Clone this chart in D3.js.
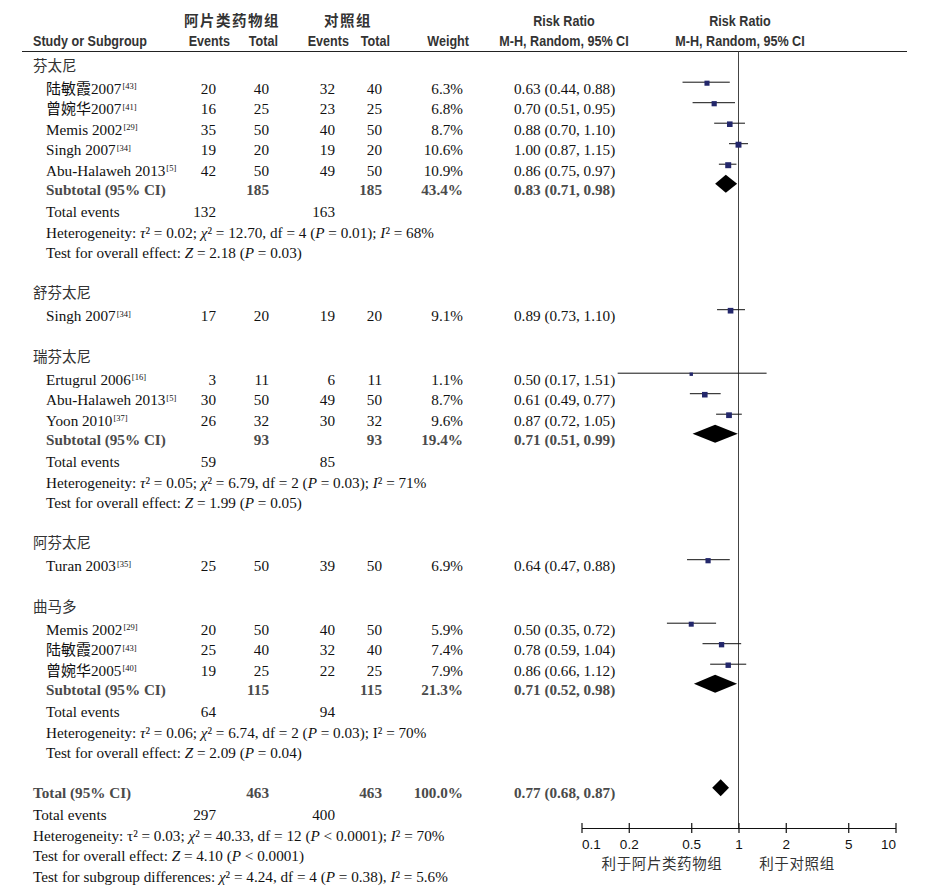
<!DOCTYPE html>
<html>
<head>
<meta charset="utf-8">
<script src="https://cdn.jsdelivr.net/npm/d3@7"></script>
<style>
  body { margin: 0; background: #fff; }
  .serif { font-family: "Liberation Serif", "Times New Roman", serif; font-size: 15.2px; fill: #111; }
  .hdr { font-family: "Liberation Sans", Arial, sans-serif; font-weight: bold; font-size: 15px; fill: #333; }
  .cjk { font-family: "Noto Sans CJK SC", sans-serif; }
</style>
</head>
<body>
<script>
// subgroups (drug)
var groups = ["芬太尼", "舒芬太尼", "瑞芬太尼", "阿芬太尼", "曲马多"];

// studies
var studies = ["陆敏霞2007", "曾婉华2007", "Memis 2002", "Singh 2007", "Abu-Halaweh 2013",
  "Singh 2007",
  "Ertugrul 2006", "Abu-Halaweh 2013", "Yoon 2010",
  "Turan 2003",
  "Memis 2002", "陆敏霞2007", "曾婉华2005"];
var refs = ["43", "41", "29", "34", "5", "34", "16", "5", "37", "35", "29", "43", "40"];
var studyGroup = [0, 0, 0, 0, 0, 1, 2, 2, 2, 3, 4, 4, 4];
var expEvents = [20, 16, 35, 19, 42, 17, 3, 30, 26, 25, 20, 25, 19];
var expTotal = [40, 25, 50, 20, 50, 20, 11, 50, 32, 50, 50, 40, 25];
var ctlEvents = [32, 23, 40, 19, 49, 19, 6, 49, 30, 39, 40, 32, 22];
var ctlTotal = [40, 25, 50, 20, 50, 20, 11, 50, 32, 50, 50, 40, 25];
var weights = [6.3, 6.8, 8.7, 10.6, 10.9, 9.1, 1.1, 8.7, 9.6, 6.9, 5.9, 7.4, 7.9];
var rr = [0.63, 0.70, 0.88, 1.00, 0.86, 0.89, 0.50, 0.61, 0.87, 0.64, 0.50, 0.78, 0.86];
var ciLow = [0.44, 0.51, 0.70, 0.87, 0.75, 0.73, 0.17, 0.49, 0.72, 0.47, 0.35, 0.59, 0.66];
var ciHigh = [0.88, 0.95, 1.10, 1.15, 0.97, 1.10, 1.51, 0.77, 1.05, 0.88, 0.72, 1.04, 1.12];

// subtotals (only groups with more than one study)
var subGroup = [0, 2, 4];
var subExpTotal = [185, 93, 115];
var subCtlTotal = [185, 93, 115];
var subWeight = [43.4, 19.4, 21.3];
var subRR = [0.83, 0.71, 0.71];
var subLow = [0.71, 0.51, 0.52];
var subHigh = [0.98, 0.99, 0.98];
var subExpEvents = [132, 59, 64];
var subCtlEvents = [163, 85, 94];
var subHet = [
  "Heterogeneity: *τ*² = 0.02; *χ*² = 12.70, df = 4 (*P* = 0.01); *I*² = 68%",
  "Heterogeneity: *τ*² = 0.05; *χ*² = 6.79, df = 2 (*P* = 0.03); *I*² = 71%",
  "Heterogeneity: *τ*² = 0.06; *χ*² = 6.74, df = 2 (*P* = 0.03); I² = 70%"];
var subTest = [
  "Test for overall effect: *Z* = 2.18 (*P* = 0.03)",
  "Test for overall effect: *Z* = 1.99 (*P* = 0.05)",
  "Test for overall effect: *Z* = 2.09 (*P* = 0.04)"];

// overall
var totExpTotal = 463, totCtlTotal = 463, totWeight = 100.0;
var totRR = 0.77, totLow = 0.68, totHigh = 0.87;
var totExpEvents = 297, totCtlEvents = 400;
var totLines = [
  "Heterogeneity: τ² = 0.03; *χ*² = 40.33, df = 12 (*P* < 0.0001); *I*² = 70%",
  "Test for overall effect: *Z* = 4.10 (*P* < 0.0001)",
  "Test for subgroup differences: *χ*² = 4.24, df = 4 (*P* = 0.38), *I*² = 5.6%"];

var axisTicks = [0.1, 0.2, 0.5, 1, 2, 5, 10];
var axisLabels = ["利于阿片类药物组", "利于对照组"];

var width = 942, height = 894;
var col = {name0: 33, name1: 46, ee: 216, et: 269, ce: 335, ct: 382, w: 463, ci: 514};
var ruleY = 51.5, axisY = 828;
var narrow = 0.84;

var svg = d3.select("body").append("svg")
    .attr("width", width)
    .attr("height", height);

var x = d3.scaleLog().domain([0.1, 10]).range([581.5, 895.5]);
var boxSize = d3.scaleSqrt().domain([0, 11]).range([2.2, 6]);
var fmt2 = d3.format(".2f"), fmtW = d3.format(".1f");

function ciText(m, l, h) { return fmt2(m) + " (" + fmt2(l) + ", " + fmt2(h) + ")"; }

// text with *italic* parts
function richText(g, str, xx, yy, cls) {
  var t = g.append("text").attr("class", cls).attr("x", xx).attr("y", yy).attr("dy", "0.35em");
  str.split("*").forEach(function(s, k) {
    if (s === "") return;
    t.append("tspan").text(s).style("font-style", k % 2 ? "italic" : null);
  });
  return t;
}
function txt(str, xx, yy, anchor, cls) {
  return svg.append("text").attr("class", cls || "serif")
    .attr("x", xx).attr("y", yy).attr("dy", "0.35em")
    .attr("text-anchor", anchor || "start").text(str);
}
// condensed bold sans header (no narrow font installed, so squeeze it)
var hdrG = svg.append("g").attr("transform", "scale(" + narrow + ",1)");
function hdr(str, xx, yy, anchor) {
  return hdrG.append("text").attr("class", "hdr")
    .attr("x", xx / narrow).attr("y", yy).attr("dy", "0.35em")
    .attr("text-anchor", anchor || "start").text(str);
}

// headers
txt("阿片类药物组", 232, 20.7, "middle", "hdr cjk").style("letter-spacing", "1.5px").style("font-size", "14.5px").style("font-weight", "600");
txt("对照组", 348, 20.7, "middle", "hdr cjk").style("letter-spacing", "1.5px").style("font-size", "14.5px").style("font-weight", "600");
hdr("Risk Ratio", 564, 20.7, "middle");
hdr("Risk Ratio", 740, 20.7, "middle");
hdr("Study or Subgroup", col.name0, 40.7);
hdr("Events", 230, 40.7, "end");
hdr("Total", 278, 40.7, "end");
hdr("Events", 349, 40.7, "end");
hdr("Total", 390, 40.7, "end");
hdr("Weight", 469, 40.7, "end");
hdr("M-H, Random, 95% CI", 564, 40.7, "middle");
hdr("M-H, Random, 95% CI", 740, 40.7, "middle");

svg.append("line").attr("x1", 22).attr("x2", 907).attr("y1", ruleY).attr("y2", ruleY)
  .attr("stroke", "#222").attr("stroke-width", 1.2);

// build row list
var rows = [];
groups.forEach(function(gname, gi) {
  rows.push({type: "group", g: gi});
  studyGroup.forEach(function(sg, i) { if (sg === gi) rows.push({type: "study", i: i}); });
  var si = subGroup.indexOf(gi);
  if (si >= 0) {
    rows.push({type: "sub", s: si});
    rows.push({type: "te", s: si});
    rows.push({type: "het", s: si});
    rows.push({type: "test", s: si});
  }
});
rows.push({type: "total"});
rows.push({type: "totte"});
totLines.forEach(function(l, k) { rows.push({type: "totline", k: k}); });

function gapBefore(prev, cur) {
  if (cur === "group") return prev === "study" ? 41 : 40.5;
  if (cur === "study") return prev === "group" ? 22.5 : 20.5;
  if (cur === "sub") return 19.5;
  if (cur === "te" || cur === "totte") return 22;
  if (cur === "total") return 40;
  return 20.5;
}
var yy = 65.7;
rows.forEach(function(r, k) {
  if (k > 0) yy += gapBefore(rows[k - 1].type, r.type);
  r.y = yy;
});

// vertical line at RR = 1
svg.append("line").attr("x1", x(1)).attr("x2", x(1)).attr("y1", ruleY).attr("y2", axisY)
  .attr("stroke", "#444").attr("stroke-width", 1);

function diamond(m, l, h, cy, hh) {
  svg.append("path")
    .attr("d", "M" + x(l) + "," + cy + "L" + x(m) + "," + (cy - hh) + "L" + x(h) + "," + cy + "L" + x(m) + "," + (cy + hh) + "Z")
    .attr("fill", "#000");
}

rows.forEach(function(r) {
  var y = r.y;
  if (r.type === "group") {
    txt(groups[r.g], col.name0, y, "start", "cjk").style("font-size", "14.5px").style("fill", "#333");
  } else if (r.type === "study") {
    var i = r.i;
    var t = txt(studies[i], col.name1, y);
    if (/[\u4e00-\u9fff]/.test(studies[i])) {
      t.text(null);
      var m = studies[i].match(/^([\u4e00-\u9fff]+)(.*)$/);
      t.append("tspan").attr("class", "cjk").style("font-size", "15px").text(m[1]);
      t.append("tspan").text(m[2]);
    }
    t.append("tspan").attr("dy", "-0.5em").attr("dx", 1).style("font-size", "8.5px").text("[" + refs[i] + "]");
    txt(expEvents[i], col.ee, y, "end");
    txt(expTotal[i], col.et, y, "end");
    txt(ctlEvents[i], col.ce, y, "end");
    txt(ctlTotal[i], col.ct, y, "end");
    txt(fmtW(weights[i]) + "%", col.w, y, "end");
    txt(ciText(rr[i], ciLow[i], ciHigh[i]), col.ci, y);
    var my = y - 6;
    svg.append("line").attr("x1", x(ciLow[i])).attr("x2", x(ciHigh[i]))
      .attr("y1", my).attr("y2", my).attr("stroke", "#111").attr("stroke-width", 1);
    var bs = boxSize(weights[i]);
    svg.append("rect").attr("x", x(rr[i]) - bs / 2).attr("y", my - bs / 2 + 1)
      .attr("width", bs).attr("height", bs).attr("fill", "#23276b");
  } else if (r.type === "sub") {
    var s = r.s;
    [txt("Subtotal (95% CI)", col.name1, y),
     txt(subExpTotal[s], col.et, y, "end"),
     txt(subCtlTotal[s], col.ct, y, "end"),
     txt(fmtW(subWeight[s]) + "%", col.w, y, "end"),
     txt(ciText(subRR[s], subLow[s], subHigh[s]), col.ci, y)
    ].forEach(function(e) { e.style("font-weight", "bold").style("fill", "#4a4a4a"); });
    diamond(subRR[s], subLow[s], subHigh[s], y - 6, 9);
  } else if (r.type === "te") {
    txt("Total events", col.name1, y);
    txt(subExpEvents[r.s], col.ee, y, "end");
    txt(subCtlEvents[r.s], col.ce, y, "end");
  } else if (r.type === "het") {
    richText(svg, subHet[r.s], col.name1, y, "serif");
  } else if (r.type === "test") {
    richText(svg, subTest[r.s], col.name1, y, "serif");
  } else if (r.type === "total") {
    [txt("Total (95% CI)", col.name0, y),
     txt(totExpTotal, col.et, y, "end"),
     txt(totCtlTotal, col.ct, y, "end"),
     txt(fmtW(totWeight) + "%", col.w, y, "end"),
     txt(ciText(totRR, totLow, totHigh), col.ci, y)
    ].forEach(function(e) { e.style("font-weight", "bold").style("fill", "#4a4a4a"); });
    diamond(totRR, totLow, totHigh, y - 5, 8.5);
  } else if (r.type === "totte") {
    txt("Total events", col.name0, y);
    txt(totExpEvents, col.ee, y, "end");
    txt(totCtlEvents, col.ce, y, "end");
  } else if (r.type === "totline") {
    richText(svg, totLines[r.k], col.name0, y, "serif");
  }
});

// axis
var axis = svg.append("g")
  .attr("transform", "translate(0," + axisY + ")")
  .call(d3.axisBottom(x).tickValues(axisTicks).tickFormat(d3.format("")).tickSize(5).tickSizeOuter(0));
axis.select(".domain").attr("stroke", "#111").attr("stroke-width", 1.2);
axis.selectAll(".tick line").attr("y1", -5).attr("stroke", "#111").attr("stroke-width", 1.2);
axis.selectAll(".tick text").attr("y", 11)
  .attr("text-anchor", function(d, k) { return k === 0 ? "start" : (k === axisTicks.length - 1 ? "end" : "middle"); })
  .style("font-family", "'Liberation Sans', Arial, sans-serif")
  .style("font-size", "13.5px").style("fill", "#111");

txt(axisLabels[0], 662, 864, "middle", "cjk").style("font-size", "14.5px").style("fill", "#333").style("letter-spacing", "0.6px");
txt(axisLabels[1], 797, 864, "middle", "cjk").style("font-size", "14.5px").style("fill", "#333").style("letter-spacing", "0.6px");
</script>
</body>
</html>
